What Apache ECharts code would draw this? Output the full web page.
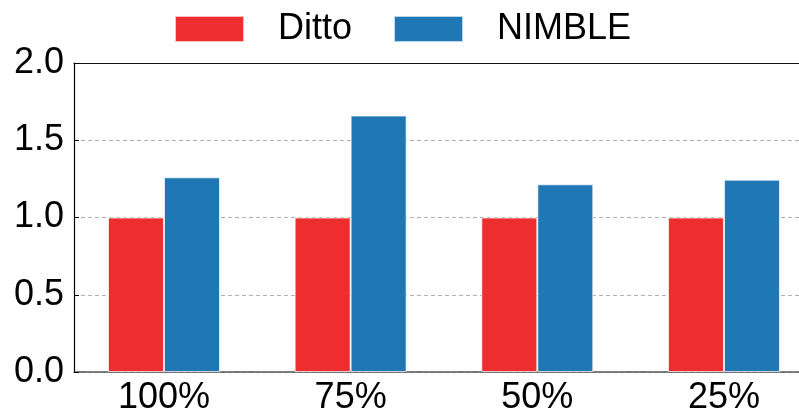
<!DOCTYPE html>
<html>
<head>
<meta charset="utf-8">
<script src="https://cdn.jsdelivr.net/npm/echarts@6/dist/echarts.min.js"></script>
<style>
  html, body { margin: 0; padding: 0; background: #fff; }
  #chart { width: 799px; height: 416px; }
</style>
</head>
<body>
<div id="chart"></div>
<script>
// Relative throughput at each data fraction
const categories = ['100%', '75%', '50%', '25%'];
const dittoValues = [1.0, 1.0, 1.0, 1.0];
const nimbleValues = [1.26, 1.66, 1.215, 1.245];
const yTicks = [0, 0.5, 1.0, 1.5, 2.0];

const FONT = '"Liberation Sans", Arial, sans-serif';
const positions = categories.map((_, i) => i);

const chart = echarts.init(document.getElementById('chart'), null, { renderer: 'canvas' });

chart.setOption({
  animation: false,
  textStyle: { fontFamily: FONT },
  grid: {
    left: 74, right: -2, top: 63, bottom: 44
  },
  legend: {
    left: 174, top: 11, padding: 0,
    itemWidth: 69, itemHeight: 26, itemGap: 41,
    icon: 'rect',
    textStyle: { fontSize: 36, color: '#000', fontFamily: FONT, padding: [0, 0, 0, 29] },
    data: ['Ditto', 'NIMBLE']
  },
  xAxis: [
    {
      type: 'value',
      min: -0.482, max: 3.402,
      axisLine: { show: true, onZero: false, lineStyle: { color: '#555', width: 1.5 } },
      axisTick: { show: false },
      splitLine: { show: false },
      axisLabel: {
        customValues: positions,
        formatter: v => categories[Math.round(v)],
        fontSize: 36, color: '#000', fontFamily: FONT, margin: 8
      }
    },
    {
      // top frame edge
      type: 'value', position: 'top',
      min: -0.482, max: 3.402,
      axisLine: { show: true, onZero: false, lineStyle: { color: '#111', width: 1.2 } },
      axisTick: { show: false },
      axisLabel: { show: false },
      splitLine: { show: false }
    }
  ],
  yAxis: {
    type: 'value',
    min: yTicks[0], max: yTicks[yTicks.length - 1], interval: 0.5,
    axisLine: { show: true, onZero: false, lineStyle: { color: '#000', width: 1.2 } },
    axisTick: { show: true, inside: true, length: 5, lineStyle: { color: '#000' } },
    splitLine: { show: true, lineStyle: { color: '#b0b0b0', type: [4, 3], width: 1 } },
    axisLabel: {
      formatter: v => v.toFixed(1),
      fontSize: 36, color: '#000', fontFamily: FONT, margin: 10
    }
  },
  series: [
    {
      name: 'Ditto', type: 'bar',
      barWidth: 56, barGap: '0%',
      itemStyle: { color: '#ee2e2e', borderColor: 'rgba(255,255,255,0.7)', borderWidth: 1 },
      data: dittoValues.map((v, i) => [positions[i], v])
    },
    {
      name: 'NIMBLE', type: 'bar',
      barWidth: 56, barGap: '0%',
      itemStyle: { color: '#1f77b4', borderColor: 'rgba(255,255,255,0.7)', borderWidth: 1 },
      data: nimbleValues.map((v, i) => [positions[i], v])
    }
  ]
});
</script>
</body>
</html>
